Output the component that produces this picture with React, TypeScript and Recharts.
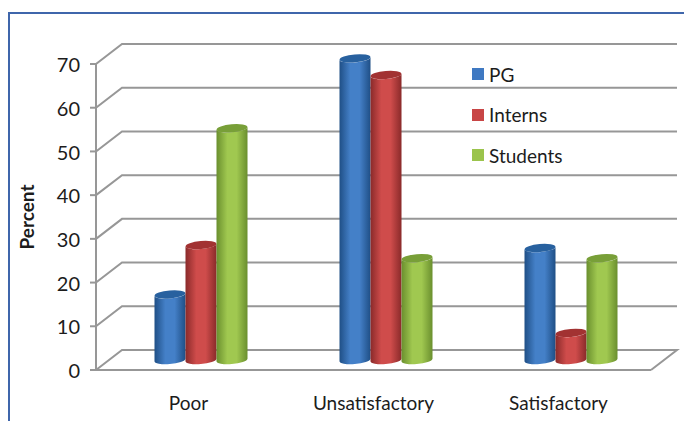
import React from "react";
import { Bar, BarChart, CartesianGrid, Label, Legend, XAxis, YAxis } from "recharts";

const categories = ["Poor", "Unsatisfactory", "Satisfactory"];
const pgValues = [15, 69, 25.6];
const internValues = [26.3, 65.2, 6.2];
const studentValues = [53, 23.3, 23.3];
const yTicks = [0, 10, 20, 30, 40, 50, 60, 70];

const rows = categories.map((name, i) => ({
  name,
  PG: pgValues[i],
  Interns: internValues[i],
  Students: studentValues[i],
}));

const GRID = "#979797";
const TEXT = "#1c1c1c";
const FONT = "Lato, sans-serif";

// depth of the fake 3D box: back wall sits up and to the right of the axes
const DEPTH_X = 26;
const DEPTH_Y = -20;

const palette = {
  PG: { edge: "#1f4f86", mid: "#4480c8", cap: "#28619f" },
  Interns: { edge: "#8a2a2a", mid: "#cf4c4b", cap: "#a23232" },
  Students: { edge: "#6a8f2e", mid: "#a0c850", cap: "#789f38" },
};

function gridLine(props: any) {
  const { x1, x2, y1, y2, key } = props;
  const atFloor = y1 > 360;
  const points = atFloor
    ? `${x1},${y1} ${x1 + DEPTH_X},${y1 + DEPTH_Y} ${x2 + DEPTH_X},${y2 + DEPTH_Y} ${x2},${y2}`
    : `${x1},${y1} ${x1 + DEPTH_X},${y1 + DEPTH_Y} ${x2 + DEPTH_X},${y2 + DEPTH_Y}`;
  return <polyline key={key} points={points} fill="none" stroke={GRID} strokeWidth={2} />;
}

// Cylinder standing midway through the box depth
function cylinder(series: keyof typeof palette) {
  return function CylinderShape(props: any) {
    const { x, y, width, height, index } = props;
    const left = x + DEPTH_X / 2 - 0.5;
    const right = left + width;
    const top = y + DEPTH_Y / 2;
    const bottom = top + height;
    const rx = width / 2;
    const ry = 4;
    const tilt = 1.2;
    const body =
      `M${left},${top + tilt} L${left},${bottom + tilt} ` +
      `A${rx},${ry} -5 0 0 ${right},${bottom - tilt} L${right},${top - tilt} ` +
      `A${rx},${ry} -5 0 1 ${left},${top + tilt} Z`;
    return (
      <g key={`${series}-${index}`}>
        <path d={body} fill={`url(#cyl-${series})`} />
        <ellipse
          cx={(left + right) / 2}
          cy={top}
          rx={rx}
          ry={ry}
          transform={`rotate(-5 ${(left + right) / 2} ${top})`}
          fill={palette[series].cap}
        />
      </g>
    );
  };
}

function LegendList({ payload }: any) {
  return (
    <div style={{ fontFamily: FONT, fontSize: 19, color: TEXT }}>
      {payload.map((item: any) => (
        <div key={item.value} style={{ display: "flex", alignItems: "center", height: 40.5 }}>
          <span style={{ width: 12, height: 12, background: item.color, marginRight: 5 }} />
          {item.value}
        </div>
      ))}
    </div>
  );
}

export default function App() {
  return (
    <div style={{ position: "absolute", left: 0, top: 0, width: 684, height: 421, background: "#fff" }}>
      <div
        style={{
          position: "absolute",
          left: 8,
          top: 12,
          right: 0,
          bottom: 0,
          borderLeft: "2px solid #3f66ab",
          borderTop: "2px solid #3f66ab",
        }}
      />
      <BarChart
        width={684}
        height={421}
        data={rows}
        margin={{ top: 64, right: 33, bottom: 0, left: 16 }}
        barSize={31}
        barGap={0}
        style={{ position: "absolute", left: 0, top: 0 }}
      >
        <defs>
          {(Object.keys(palette) as (keyof typeof palette)[]).map((s) => (
            <linearGradient key={s} id={`cyl-${s}`} x1="0" y1="0" x2="1" y2="0">
              <stop offset="0%" stopColor={palette[s].edge} />
              <stop offset="35%" stopColor={palette[s].mid} />
              <stop offset="65%" stopColor={palette[s].mid} />
              <stop offset="100%" stopColor={palette[s].edge} />
            </linearGradient>
          ))}
        </defs>
        <CartesianGrid vertical={false} horizontal={gridLine} />
        <XAxis
          dataKey="name"
          height={51}
          tickLine={false}
          tickMargin={21}
          axisLine={{ stroke: GRID, strokeWidth: 2 }}
          tick={{ fill: TEXT, fontSize: 19, fontFamily: FONT }}
        />
        <YAxis
          width={80}
          domain={[0, 70]}
          ticks={yTicks}
          tickSize={6}
          tickMargin={10}
          axisLine={{ stroke: GRID, strokeWidth: 2 }}
          tickLine={{ stroke: GRID, strokeWidth: 2 }}
          tick={{ fill: TEXT, fontSize: 20, fontFamily: FONT, dy: 1 }}
        >
          <Label
            value="Percent"
            angle={-90}
            position="insideLeft"
            offset={11}
            textAnchor="middle"
            style={{ fill: TEXT, fontSize: 19, fontWeight: 700, fontFamily: FONT }}
          />
        </YAxis>
        <Legend
          layout="vertical"
          align="center"
          verticalAlign="middle"
          itemSorter={null}
          content={<LegendList />}
          wrapperStyle={{ position: "absolute", left: 472, top: 54, width: 120 }}
        />
        <Bar dataKey="PG" fill="#3f79c2" shape={cylinder("PG")} isAnimationActive={false} />
        <Bar dataKey="Interns" fill="#c84545" shape={cylinder("Interns")} isAnimationActive={false} />
        <Bar dataKey="Students" fill="#9bc44c" shape={cylinder("Students")} isAnimationActive={false} />
      </BarChart>
    </div>
  );
}
